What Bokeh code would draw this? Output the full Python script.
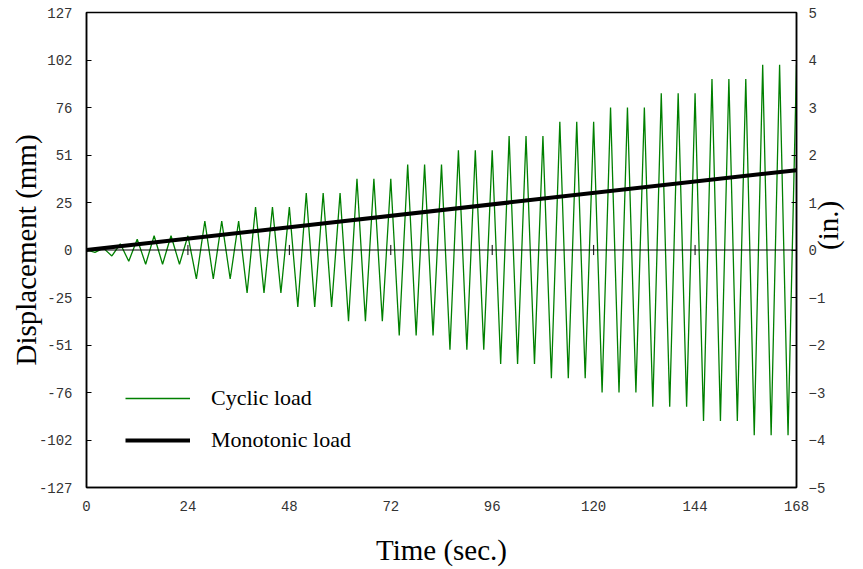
import math
from bokeh.plotting import figure
from bokeh.models import (Range1d, LinearAxis, FixedTicker, Span, Legend,
                          LegendItem)
from bokeh.embed import file_html
from bokeh.resources import INLINE

# ---- data ----
cyc_time = [0, 2, 4, 6, 8, 10, 12, 14, 16, 18, 20, 22, 24, 26, 28, 30, 32, 34, 36,
            38, 40, 42, 44, 46, 48, 50, 52, 54, 56, 58, 60, 62, 64, 66, 68, 70, 72,
            74, 76, 78, 80, 82, 84, 86, 88, 90, 92, 94, 96, 98, 100, 102, 104, 106, 108,
            110, 112, 114, 116, 118, 120, 122, 124, 126, 128, 130, 132, 134, 136, 138,
            140, 142, 144, 146, 148, 150, 152, 154, 156, 158, 160, 162, 164, 166, 168]
cyc_disp = [0,
            -1.3, 1.0, -3.2, 3.3, -6.0, 5.8,
            -7.6, 7.6, -7.6, 7.6, -7.6, 7.6,
            -15.5, 15.5, -15.5, 15.5, -15.5, 15.5,
            -22.9, 22.9, -22.9, 22.9, -22.9, 22.9,
            -30.5, 30.5, -30.5, 30.5, -30.5, 30.5,
            -38.1, 38.1, -38.1, 38.1, -38.1, 38.1,
            -45.7, 45.7, -45.7, 45.7, -45.7, 45.7,
            -53.3, 53.3, -53.3, 53.3, -53.3, 53.3,
            -61.0, 61.0, -61.0, 61.0, -61.0, 61.0,
            -68.6, 68.6, -68.6, 68.6, -68.6, 68.6,
            -76.2, 76.2, -76.2, 76.2, -76.2, 76.2,
            -83.8, 83.8, -83.8, 83.8, -83.8, 83.8,
            -91.4, 91.4, -91.4, 91.4, -91.4, 91.4,
            -99.1, 99.1, -99.1, 99.1, -99.1, 99.1]
mono_time = [0, 168]
mono_disp = [0, 42.7]

x_ticks = [0, 24, 48, 72, 96, 120, 144, 168]
mm_ticks = [-127, -101.6, -76.2, -50.8, -25.4, 0, 25.4, 50.8, 76.2, 101.6, 127]
mm_labels = ["-127", "-102", "-76", "-51", "-25", "0", "25", "51", "76", "102", "127"]
in_ticks = [-5, -4, -3, -2, -1, 0, 1, 2, 3, 4, 5]

MONO = "Liberation Mono"
SERIF = "Liberation Serif"

p = figure(width=863, height=569, output_backend="svg", toolbar_location=None,
           x_range=Range1d(0, 168), y_range=Range1d(-127, 127),
           min_border_left=86, min_border_right=67, min_border_top=12,
           min_border_bottom=82, title=None)
p.background_fill_color = "white"
p.border_fill_color = "white"
p.outline_line_color = "black"
p.outline_line_width = 1.5
p.xgrid.visible = False
p.ygrid.visible = False

# left axis
ya = p.yaxis[0]
ya.ticker = FixedTicker(ticks=mm_ticks)
ya.major_label_overrides = {t: l for t, l in zip(mm_ticks, mm_labels)}
ya.axis_label = "Displacement (mm)"

# bottom axis
xa = p.xaxis[0]
xa.ticker = FixedTicker(ticks=x_ticks)
xa.axis_label = "Time (sec.)"
xa.major_tick_in = 0
xa.major_tick_out = 0

# right axis
p.extra_y_ranges = {"in": Range1d(-5, 5)}
ra = LinearAxis(y_range_name="in", ticker=FixedTicker(ticks=in_ticks), axis_label="(in.)")
p.add_layout(ra, "right")
ra.axis_label_orientation = -1.5 * math.pi

for ax in (ya, ra):
    ax.major_tick_in = 5
    ax.major_tick_out = 0
for ax in (xa, ya, ra):
    ax.minor_tick_line_color = None
    ax.axis_line_color = "black"
    ax.axis_line_width = 1.5
    ax.major_tick_line_color = "black"
    ax.major_label_text_font = MONO
    ax.major_label_text_font_size = "14px"
    ax.major_label_text_color = "#333333"
    ax.axis_label_text_font = SERIF
    ax.axis_label_text_font_style = "normal"
    ax.axis_label_text_font_size = "29px"
    ax.axis_label_text_color = "black"

ya.major_label_standoff = 14
ya.axis_label_standoff = -6
xa.major_label_standoff = 13
xa.axis_label_standoff = 20
ra.major_label_standoff = 12
ra.axis_label_standoff = 0

# zero line and its time ticks
p.add_layout(Span(location=0, dimension="width", line_color="black", line_width=1))
p.segment(x0=x_ticks, y0=[-2.7] * len(x_ticks), x1=x_ticks, y1=[2.7] * len(x_ticks),
          line_color="black", line_width=1)

cyc = p.line(cyc_time, cyc_disp, line_color="#008000", line_width=1.3)
mono = p.line(mono_time, mono_disp, line_color="black", line_width=4)

legend = Legend(items=[LegendItem(label="Cyclic load", renderers=[cyc]),
                       LegendItem(label="Monotonic load", renderers=[mono])],
                location=(39, 34), padding=0, margin=0, spacing=16,
                glyph_width=65, glyph_height=26, label_height=26,
                label_standoff=21, border_line_color=None,
                background_fill_alpha=0,
                label_text_font=SERIF, label_text_font_size="22px",
                label_text_color="black")
p.add_layout(legend, "center")

open("out.html", "w").write(file_html(p, INLINE))
